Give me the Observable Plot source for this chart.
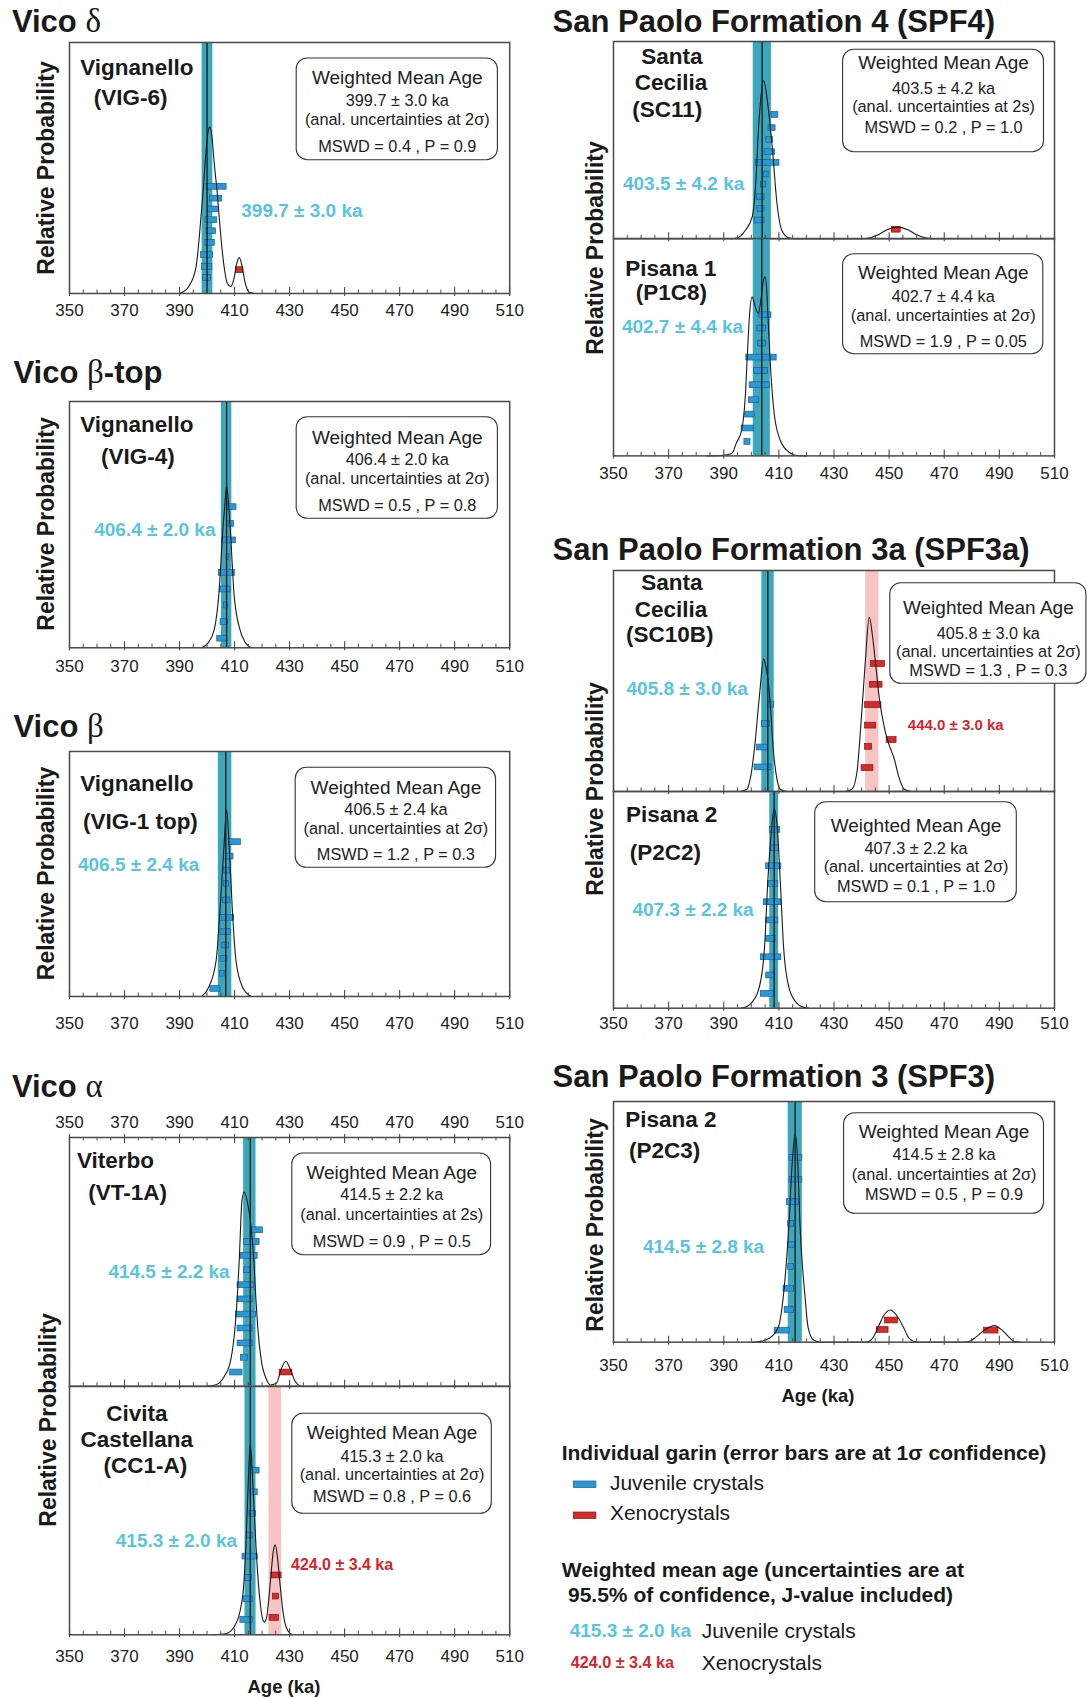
<!DOCTYPE html>
<html><head><meta charset="utf-8">
<script src="https://cdn.jsdelivr.net/npm/d3@7"></script>
<script src="https://cdn.jsdelivr.net/npm/@observablehq/plot@0.6"></script>
<style>
body{margin:0;background:#fff;}
#page{position:relative;width:1088px;height:1699px;overflow:hidden;background:#fff;}
</style></head><body><div id="page"></div>
<script>
// ---------- axis ticks ----------
const majorTicks = [350,370,390,410,430,450,470,490,510];
const minorTicks = [355,360,365,375,380,385,395,400,405,415,420,425,435,440,445,455,460,465,475,480,485,495,500,505];

// ---------- data: [age ka, relative probability] curves; grains [low ka, high ka, row]; bands [low, high]; mean line ----------
// Vico delta - Vignanello (VIG-6)
const vig6Curve = [[390,0],[393.3,0.027],[396,0.106],[397.3,0.24],[398.5,0.4],[399.5,0.55],[400.3,0.64],[400.9,0.664],[401.7,0.63],[402.6,0.52],[403.7,0.4],[404.9,0.24],[406.2,0.106],[407.4,0.04],[408.6,0.027],[409.8,0.06],[410.8,0.12],[411.7,0.143],[412.7,0.11],[413.8,0.045],[415.4,0.005],[418,0]];
const vig6Juv = [[399.8,407.1,0.425],[401.0,405.5,0.378],[400.3,403.9,0.335],[399.4,403.7,0.292],[399.8,403.2,0.248],[399.4,402.8,0.202],[397.8,402.2,0.153],[398.2,401.9,0.106],[398.5,401.5,0.062]];
const vig6Xeno = [[410.5,413.2,0.093]];
const vig6Band = [[398.2,402.1]];
const vig6Mean = [400.0];

// Vico beta-top - Vignanello (VIG-4)
const vig4Curve = [[398,0],[400.6,0.023],[402.8,0.084],[404.3,0.219],[405.8,0.49],[406.5,0.585],[407.1,0.659],[407.8,0.585],[408.4,0.49],[409.8,0.219],[411.7,0.084],[413.8,0.023],[416,0]];
const vig4Juv = [[407.4,410.7,0.571],[407.8,409.8,0.503],[405.5,410.5,0.436],[407.1,408.1,0.368],[404.3,410.1,0.304],[404.6,408.6,0.237],[406.2,407.6,0.172],[404.9,407.6,0.104],[403.7,407.4,0.037]];
const vig4Band = [[405.2,409.0]];
const vig4Mean = [407.1];

// Vico beta - Vignanello (VIG-1 top)
const vig1Curve = [[398,0],[400.6,0.038],[403.3,0.147],[404.7,0.351],[406.2,0.623],[407.1,0.762],[408.0,0.623],[409.2,0.351],[410.5,0.147],[412.9,0.038],[416,0]];
const vig1Juv = [[408.0,412.3,0.63],[406.8,409.6,0.571],[406.2,408.4,0.514],[406.2,408.0,0.46],[405.8,408.2,0.392],[404.7,409.8,0.321],[404.9,408.6,0.263],[405.5,408.0,0.208],[404.9,407.4,0.154],[404.7,406.4,0.093],[401.2,404.9,0.031]];
const vig1Band = [[404.1,409.0]];
const vig1Mean = [406.8];

// Vico alpha - Viterbo (VT-1A)
const vt1aCurve = [[400,0],[403,0.005],[406.2,0.038],[408.6,0.105],[410.2,0.239],[411.1,0.38],[411.7,0.507],[412.7,0.748],[413.5,0.781],[414.5,0.748],[416.0,0.64],[417.0,0.507],[417.7,0.36],[418.4,0.239],[419.7,0.105],[421.5,0.03],[423,0.005],[425.2,0.012],[427,0.07],[428.6,0.1],[430.2,0.07],[432,0.02],[434,0]];
const vt1aJuv = [[416.0,420.3,0.627],[413.5,419.1,0.58],[412.3,418.4,0.524],[413.5,416.0,0.466],[411.1,417.2,0.406],[411.1,416.6,0.349],[410.5,417.8,0.288],[411.1,416.6,0.232],[411.1,416.6,0.172],[412.3,414.8,0.114],[408.4,412.9,0.055]];
const vt1aXeno = [[426.4,431.0,0.055]];
const vt1aBand = [[413.3,417.8]];
const vt1aMean = [415.7];

// Vico alpha - Civita Castellana (CC1-A)
const cc1aCurve = [[402,0],[407,0.005],[409.8,0.031],[412.9,0.151],[414.1,0.353],[415.0,0.621],[415.7,0.768],[416.6,0.621],[417.8,0.353],[419.1,0.151],[420.3,0.06],[420.9,0.051],[421.8,0.08],[422.5,0.151],[423.3,0.25],[424.0,0.33],[424.8,0.362],[425.6,0.31],[426.4,0.218],[427.7,0.084],[429.3,0.017],[431,0]];
const cc1aJuv = [[416.6,419.1,0.661],[415.7,418.4,0.574],[415.4,417.8,0.487],[414.5,416.6,0.4],[412.9,418.4,0.315],[413.9,416.2,0.229],[413.3,416.6,0.143],[412.1,416.6,0.06]];
const cc1aXeno = [[423.4,427.1,0.239],[424.0,426.1,0.154],[422.7,426.1,0.068]];
const cc1aBand = [[413.8,417.8]];
const cc1aXenoBand = [[422.5,427.1]];
const cc1aMean = [415.7];

// SPF4 - Santa Cecilia (SC11)
const sc11Curve = [[393,0],[395,0.005],[397.8,0.042],[400.3,0.11],[401.6,0.279],[402.5,0.532],[403.5,0.72],[404.5,0.802],[405.8,0.7],[407.7,0.448],[409.2,0.194],[411.1,0.042],[413.6,0.005],[416,0],[440,0],[443,0.005],[446,0.02],[449,0.045],[453,0.059],[457,0.045],[460,0.02],[463,0.005],[466,0]];
const sc11Juv = [[407.3,409.8,0.628],[406.3,408.8,0.561],[405.4,407.9,0.502],[404.8,408.6,0.439],[401.6,410.2,0.385],[404.5,406.3,0.326],[403.5,405.4,0.275],[402.0,404.8,0.211],[402.2,404.8,0.152],[401.2,404.8,0.093]];
const sc11Xeno = [[451.0,454.2,0.046]];
const sc11Band = [[400.7,407.3]];
const sc11Mean = [403.9];

// SPF4 - Pisana 1 (P1C8)
const p1c8Curve = [[384,0],[390,0.003],[393,0.012],[394.6,0.06],[396.5,0.118],[397.8,0.271],[398.7,0.5],[399.4,0.655],[400.3,0.732],[401.3,0.69],[402.5,0.655],[403.5,0.72],[404.3,0.8],[405.0,0.824],[405.6,0.76],[406.0,0.655],[406.9,0.423],[408.3,0.195],[410.5,0.072],[413.6,0.018],[416,0.003],[420,0]];
const p1c8Juv = [[402.9,407.3,0.647],[402.2,405.4,0.586],[402.5,405.4,0.517],[398.2,409.2,0.452],[401.0,406.0,0.391],[399.4,406.7,0.325],[399.1,402.9,0.256],[397.8,401.2,0.19],[396.5,401.0,0.126],[397.5,399.7,0.064]];
const p1c8Band = [[400.7,406.9]];
const p1c8Mean = [403.8];

// SPF3a - Santa Cecilia (SC10B)
const sc10bCurve = [[396,0],[398.4,0.01],[399.7,0.063],[401.2,0.2],[402.9,0.426],[404.5,0.6],[405.5,0.55],[406.7,0.426],[407.9,0.2],[409.2,0.063],[410.5,0.01],[413,0],[434,0],[436.5,0.01],[438.4,0.094],[439.6,0.275],[441.3,0.577],[442.8,0.789],[444,0.7],[445.1,0.577],[446.4,0.426],[448.5,0.275],[450.3,0.2],[451.7,0.154],[453.6,0.063],[455.5,0.01],[458,0]];
const sc10bJuv = [[406.0,408.3,0.393],[403.8,406.7,0.305],[402.0,406.0,0.199],[401.2,407.3,0.109]];
const sc10bXeno = [[443.4,448.5,0.577],[443.1,447.6,0.483],[441.3,447.2,0.391],[441.3,445.3,0.298],[449.1,452.7,0.233],[441.3,443.8,0.202],[440.0,444.3,0.106]];
const sc10bBand = [[403.8,408.3]];
const sc10bXenoBand = [[441.5,446.3]];
const sc10bMean = [406.0];

// SPF3a - Pisana 2 (P2C2)
const p2c2Curve = [[396,0],[398.4,0.008],[400.3,0.028],[402.9,0.097],[404.8,0.282],[406.0,0.589],[407.3,0.82],[408.3,0.92],[409.5,0.82],[410.5,0.589],[411.7,0.282],[413.6,0.097],[416.2,0.028],[418.7,0.005],[421,0]];
const p2c2Juv = [[406.7,410.5,0.823],[407.1,410.1,0.738],[405.4,410.9,0.655],[406.0,409.8,0.574],[404.5,410.9,0.489],[405.4,409.8,0.405],[405.4,408.8,0.32],[403.5,410.9,0.235],[405.4,408.6,0.151],[403.5,408.3,0.066]];
const p2c2Band = [[406.7,409.9]];
const p2c2Mean = [408.3];

// SPF3 - Pisana 2 (P2C3)
const p2c3Curve = [[400,0],[404,0.005],[407,0.02],[409.8,0.062],[411.7,0.2],[413.6,0.478],[414.9,0.755],[415.9,0.866],[416.8,0.755],[417.7,0.478],[419.4,0.2],[420.6,0.062],[422.5,0.01],[425,0],[441,0],[442.8,0.004],[444.5,0.025],[446,0.062],[448,0.11],[450.4,0.134],[452.8,0.11],[455.2,0.062],[457,0.02],[458.7,0.004],[461,0],[477,0],[479,0.003],[481.5,0.021],[484.5,0.05],[488.2,0.069],[491,0.05],[493.5,0.021],[495.4,0.003],[498,0]];
const p2c3Juv = [[413.9,418.5,0.766],[413.9,418.5,0.675],[413.0,417.5,0.582],[413.4,415.5,0.492],[413.4,415.9,0.404],[413.4,415.5,0.312],[411.7,415.5,0.222],[412.1,415.5,0.134],[408.6,413.9,0.048]];
const p2c3Xeno = [[448.5,453.2,0.09],[445.6,449.8,0.051],[484.4,489.7,0.048]];
const p2c3Band = [[413.4,418.5]];
const p2c3Mean = [415.9];

// ---------- styling ----------
const FONT = "'Liberation Sans', Arial, Helvetica, sans-serif";
const SERIF = "'Liberation Serif', 'DejaVu Serif', serif";
const C = {
  band: "#3ca6bb", pink: "#f7c3c3",
  juv: "#2b98d6", juvEdge: "#1a5f8e",
  xeno: "#d52b2b", xenoEdge: "#8a1515",
  cyanText: "#58c4df", redText: "#d5262c",
  frame: "#4a4a4a", ink: "#1a1a1a"
};

// ---------- panel layout (page pixels) and annotations ----------
const L = {x0: 68.6, x1: 508.8}, R = {x0: 612.6, x1: 1053.6};
const panels = [
  {...L, y0: 42.3, y1: 293.3, axis: "bottom", pad: 10,
   curve: vig6Curve, juv: vig6Juv, xeno: vig6Xeno, band: vig6Band, mean: vig6Mean,
   names: [["Vignanello",135.9,75],["(VIG-6)",129.8,105]],
   box: [295.8,58.3,497,160],
   lines: [["Weighted Mean Age",84],["399.7 ± 3.0 ka",106],["(anal. uncertainties at 2σ)",125],["MSWD = 0.4 , P = 0.9",152]],
   cyan: ["399.7 ± 3.0 ka",240.4,216.7]},
  {...L, y0: 401, y1: 647.3, axis: "bottom", pad: 12.5,
   curve: vig4Curve, juv: vig4Juv, band: vig4Band, mean: vig4Mean,
   names: [["Vignanello",135.9,431.7],["(VIG-4)",136.9,463.3]],
   box: [295.8,416.7,497,518.3],
   lines: [["Weighted Mean Age",443.3],["406.4 ± 2.0 ka",465],["(anal. uncertainties at 2σ)",484],["MSWD = 0.5 , P = 0.8",510.7]],
   cyan: ["406.4 ± 2.0 ka",93.3,535.7]},
  {...L, y0: 751, y1: 996, axis: "bottom", pad: 20,
   curve: vig1Curve, juv: vig1Juv, band: vig1Band, mean: vig1Mean,
   names: [["Vignanello",135.9,791],["(VIG-1 top)",139.5,828.3]],
   box: [294.8,767.3,495.2,867.3],
   lines: [["Weighted Mean Age",793.3],["406.5 ± 2.4 ka",815],["(anal. uncertainties at 2σ)",833.3],["MSWD = 1.2 , P = 0.3",860]],
   cyan: ["406.5 ± 2.4 ka",77.1,870.7]},
  {...L, y0: 1137.3, y1: 1386, axis: "top", pad: 9, topTicks: true,
   curve: vt1aCurve, juv: vt1aJuv, xeno: vt1aXeno, band: vt1aBand, mean: vt1aMean,
   names: [["Viterbo",114.6,1168.3],["(VT-1A)",126.8,1200]],
   box: [291.4,1153.3,490.2,1255],
   lines: [["Weighted Mean Age",1179],["414.5 ± 2.2 ka",1200],["(anal. uncertainties at 2s)",1220],["MSWD = 0.9 , P = 0.5",1246.7]],
   cyan: ["414.5 ± 2.2 ka",107.5,1278.3]},
  {...L, y0: 1386, y1: 1634.3, axis: "bottom", pad: 15.5,
   curve: cc1aCurve, juv: cc1aJuv, xeno: cc1aXeno, band: cc1aBand, xenoBand: cc1aXenoBand, mean: cc1aMean,
   names: [["Civita",135.9,1421],["Castellana",135.9,1446.7],["(CC1-A)",144.5,1472.7]],
   box: [291.4,1413.3,490.9,1513.3],
   lines: [["Weighted Mean Age",1438.3],["415.3 ± 2.0 ka",1461.7],["(anal. uncertainties at 2σ)",1480],["MSWD = 0.8 , P = 0.6",1501.7]],
   cyan: ["415.3 ± 2.0 ka",114.9,1546.7], red: ["424.0 ± 3.4 ka",290.1,1569.3, 16]},
  {...R, y0: 41, y1: 238.3, axis: null,
   curve: sc11Curve, juv: sc11Juv, xeno: sc11Xeno, band: sc11Band, mean: sc11Mean,
   names: [["Santa",671,63.3],["Cecilia",670,90],["(SC11)",666.3,116.7]],
   box: [842.2,49.3,1043.1,151.7],
   lines: [["Weighted Mean Age",69],["403.5 ± 4.2 ka",93.3],["(anal. uncertainties at 2s)",111.7],["MSWD = 0.2 , P = 1.0",132.7]],
   cyan: ["403.5 ± 4.2 ka",622.1,190]},
  {...R, y0: 238.3, y1: 455.7, axis: "bottom", pad: 11.5,
   curve: p1c8Curve, juv: p1c8Juv, band: p1c8Band, mean: p1c8Mean,
   names: [["Pisana 1",670,276],["(P1C8)",670.5,300]],
   box: [842.2,254,1042.4,354],
   lines: [["Weighted Mean Age",279.3],["402.7 ± 4.4 ka",301.7],["(anal. uncertainties at 2σ)",320.7],["MSWD = 1.9 , P = 0.05",346.7]],
   cyan: ["402.7 ± 4.4 ka",621,333.3]},
  {...R, y0: 570, y1: 791, axis: null, extraRight: 50,
   curve: sc10bCurve, juv: sc10bJuv, xeno: sc10bXeno, band: sc10bBand, xenoBand: sc10bXenoBand, mean: sc10bMean,
   names: [["Santa",671,589.3],["Cecilia",670,616],["(SC10B)",668.9,641.7]],
   box: [889.4,582.7,1085.5,683.3],
   lines: [["Weighted Mean Age",613.3],["405.8 ± 3.0 ka",638.3],["(anal. uncertainties at 2σ)",656.7],["MSWD = 1.3 , P = 0.3",675]],
   cyan: ["405.8 ± 3.0 ka",625.6,694], red: ["444.0 ± 3.0 ka",906.9,729.3, 15]},
  {...R, y0: 791, y1: 1007.7, axis: "bottom", pad: 8.5,
   curve: p2c2Curve, juv: p2c2Juv, band: p2c2Band, mean: p2c2Mean,
   names: [["Pisana 2",670.7,821.7],["(P2C2)",664.4,860]],
   box: [814.3,801.7,1015.9,901.7],
   lines: [["Weighted Mean Age",831.7],["407.3 ± 2.2 ka",853.3],["(anal. uncertainties at 2σ)",871.7],["MSWD = 0.1 , P = 1.0",891.7]],
   cyan: ["407.3 ± 2.2 ka",631.5,916]},
  {...R, y0: 1101, y1: 1341.7, axis: "bottom", pad: 16.5,
   curve: p2c3Curve, juv: p2c3Juv, xeno: p2c3Xeno, band: p2c3Band, mean: p2c3Mean,
   names: [["Pisana 2",670,1126.7],["(P2C3)",663.7,1157.3]],
   box: [843.2,1112.7,1043.1,1213.3],
   lines: [["Weighted Mean Age",1137.3],["414.5 ± 2.8 ka",1160],["(anal. uncertainties at 2σ)",1179.3],["MSWD = 0.5 , P = 0.9",1200]],
   cyan: ["414.5 ± 2.8 ka",642,1252.7]}
];

const page = document.getElementById("page");

function drawPanel(p) {
  const w = p.x1 - p.x0, h = p.y1 - p.y0;
  const mL = 22, mR = p.extraRight || 22, mT = p.axis === "top" ? 34 : 6, mB = 40;
  const X = px => 350 + (px - p.x0) / w * 160;   // page px -> age
  const Y = py => 1 - (py - p.y0) / h;           // page px -> relative probability
  const hb = 2.9 / h;
  const marks = [];
  if (p.xenoBand) marks.push(Plot.rect(p.xenoBand, {x1: d => d[0], x2: d => d[1], y1: () => 0, y2: () => 1, fill: C.pink}));
  marks.push(Plot.rect(p.band, {x1: d => d[0], x2: d => d[1], y1: () => 0, y2: () => 1, fill: C.band}));
  marks.push(Plot.rect(p.juv, {x1: d => d[0], x2: d => d[1], y1: d => d[2] - hb, y2: d => d[2] + hb, fill: C.juv, stroke: C.juvEdge, strokeWidth: 0.7}));
  if (p.xeno) marks.push(Plot.rect(p.xeno, {x1: d => d[0], x2: d => d[1], y1: d => d[2] - hb, y2: d => d[2] + hb, fill: C.xeno, stroke: C.xenoEdge, strokeWidth: 0.7}));
  marks.push(Plot.line(p.curve, {x: d => d[0], y: d => d[1], curve: "monotone-x", stroke: C.ink, strokeWidth: 1.1}));
  marks.push(Plot.ruleX(p.mean, {x: d => d, stroke: C.ink, strokeWidth: 1.3}));
  marks.push(Plot.frame({stroke: C.frame, strokeWidth: 1.5}));
  marks.push(Plot.ruleX(majorTicks, {x: d => d, stroke: C.frame, strokeWidth: 1.1, insetTop: h - 6, insetBottom: -3}));
  marks.push(Plot.ruleX(minorTicks, {x: d => d, stroke: C.frame, strokeWidth: 1, insetTop: h - 3.5}));
  if (p.topTicks) {
    marks.push(Plot.ruleX(majorTicks, {x: d => d, stroke: C.frame, strokeWidth: 1.1, insetBottom: h - 6, insetTop: -3}));
    marks.push(Plot.ruleX(minorTicks, {x: d => d, stroke: C.frame, strokeWidth: 1, insetBottom: h - 3.5}));
  }
  if (p.axis) marks.push(Plot.axisX({ticks: majorTicks, anchor: p.axis, tickSize: 0, tickPadding: p.pad, fontSize: 17, label: null}));
  // annotation box
  const b = p.box, bcx = (b[0] + b[2]) / 2;
  marks.push(Plot.rect([b], {x1: d => X(d[0]), x2: d => X(d[2]), y1: d => Y(d[3]), y2: d => Y(d[1]), rx: 11, ry: 11, fill: "white", stroke: "#333", strokeWidth: 1.1}));
  marks.push(Plot.text(p.lines.slice(0, 1), {x: () => X(bcx), y: d => Y(d[1]), text: d => d[0], lineAnchor: "bottom", textAnchor: "middle", fontSize: 19, fill: "#222"}));
  marks.push(Plot.text(p.lines.slice(1), {x: () => X(bcx), y: d => Y(d[1]), text: d => d[0], lineAnchor: "bottom", textAnchor: "middle", fontSize: 16.3, fill: "#222"}));
  marks.push(Plot.text(p.names, {x: d => X(d[1]), y: d => Y(d[2]), text: d => d[0], lineAnchor: "bottom", textAnchor: "middle", fontSize: 22.5, fontWeight: "bold", fill: C.ink}));
  marks.push(Plot.text([p.cyan], {x: d => X(d[1]), y: d => Y(d[2]), text: d => d[0], lineAnchor: "bottom", textAnchor: "start", fontSize: 19, fontWeight: "bold", fill: C.cyanText}));
  if (p.red) marks.push(Plot.text([p.red], {x: d => X(d[1]), y: d => Y(d[2]), text: d => d[0], lineAnchor: "bottom", textAnchor: "start", fontSize: p.red[3], fontWeight: "bold", fill: C.redText}));

  const xOpts = p.axis ? {domain: [350, 510]} : {domain: [350, 510], axis: null};
  const svg = Plot.plot({
    width: w + mL + mR, height: h + mT + mB,
    marginLeft: mL, marginRight: mR, marginTop: mT, marginBottom: mB,
    x: xOpts, y: {domain: [0, 1], axis: null},
    style: {fontFamily: FONT, background: "transparent", overflow: "visible", color: "#222", maxWidth: "none"},
    marks
  });
  svg.style.position = "absolute";
  svg.style.left = (p.x0 - mL) + "px";
  svg.style.top = (p.y0 - mT) + "px";
  page.appendChild(svg);
}
panels.forEach(drawPanel);

// ---------- titles, axis titles and legend ----------
const titles = [
  [11.9, 31.7, [["Vico ", 0], ["δ", 1]]],
  [13.5, 383.3, [["Vico ", 0], ["β", 1], ["-top", 0]]],
  [13.5, 736.7, [["Vico ", 0], ["β", 1]]],
  [11.9, 1097.3, [["Vico ", 0], ["α", 1]]],
  [552.5, 31.7, [["San Paolo Formation 4 (SPF4)", 0]]],
  [552.5, 560, [["San Paolo Formation 3a (SPF3a)", 0]]],
  [552.5, 1086.7, [["San Paolo Formation 3 (SPF3)", 0]]]
];
const yLabels = [[45.6,168],[45.6,524],[45.6,873.5],[47.7,1420],[594.7,248],[594.7,789],[594.7,1225]];
const xLabels = [[284,1693],[818,1401.7]];

const ov = d3.select(page).append("svg")
  .attr("width", 1088).attr("height", 1699)
  .style("position", "absolute").style("left", "0px").style("top", "0px")
  .style("font-family", FONT).style("pointer-events", "none");

titles.forEach(([x, y, parts]) => {
  const t = ov.append("text").attr("x", x).attr("y", y).attr("font-size", 31).attr("fill", C.ink);
  parts.forEach(([s, serif]) => {
    const sp = t.append("tspan").text(s);
    if (serif) sp.attr("font-family", SERIF).attr("font-weight", "normal").attr("font-size", 33);
    else sp.attr("font-weight", "bold");
  });
});
yLabels.forEach(([x, y]) => {
  ov.append("text").attr("transform", `translate(${x},${y}) rotate(-90)`)
    .attr("text-anchor", "middle").attr("dominant-baseline", "central")
    .attr("font-size", 23).attr("font-weight", "bold").attr("fill", C.ink).text("Relative Probability");
});
xLabels.forEach(([x, y]) => {
  ov.append("text").attr("x", x).attr("y", y).attr("text-anchor", "middle")
    .attr("font-size", 18.5).attr("font-weight", "bold").attr("fill", C.ink).text("Age (ka)");
});

// legend
ov.append("text").attr("x", 561.7).attr("y", 1460).attr("font-size", 21).attr("font-weight", "bold").attr("fill", C.ink)
  .text("Individual garin (error bars are at 1σ confidence)");
ov.append("rect").attr("x", 573.3).attr("y", 1481).attr("width", 22.6).attr("height", 6.5).attr("fill", C.juv).attr("stroke", C.juvEdge).attr("stroke-width", 0.7);
ov.append("text").attr("x", 609.9).attr("y", 1490).attr("font-size", 21).attr("fill", C.ink).text("Juvenile crystals");
ov.append("rect").attr("x", 573.3).attr("y", 1512).attr("width", 22.6).attr("height", 6.5).attr("fill", C.xeno).attr("stroke", C.xenoEdge).attr("stroke-width", 0.7);
ov.append("text").attr("x", 609.9).attr("y", 1520).attr("font-size", 21).attr("fill", C.ink).text("Xenocrystals");
ov.append("text").attr("x", 561.7).attr("y", 1577.3).attr("font-size", 21).attr("font-weight", "bold").attr("fill", C.ink)
  .text("Weighted mean age (uncertainties are at");
ov.append("text").attr("x", 568).attr("y", 1601.7).attr("font-size", 21).attr("font-weight", "bold").attr("fill", C.ink)
  .text("95.5% of confidence, J-value included)");
ov.append("text").attr("x", 569.7).attr("y", 1637.3).attr("font-size", 19).attr("font-weight", "bold").attr("fill", C.cyanText).text("415.3 ± 2.0 ka");
ov.append("text").attr("x", 701.7).attr("y", 1638.3).attr("font-size", 21).attr("fill", C.ink).text("Juvenile crystals");
ov.append("text").attr("x", 570.7).attr("y", 1668.3).attr("font-size", 16.2).attr("font-weight", "bold").attr("fill", C.redText).text("424.0 ± 3.4 ka");
ov.append("text").attr("x", 701.7).attr("y", 1670).attr("font-size", 21).attr("fill", C.ink).text("Xenocrystals");
</script></body></html>
